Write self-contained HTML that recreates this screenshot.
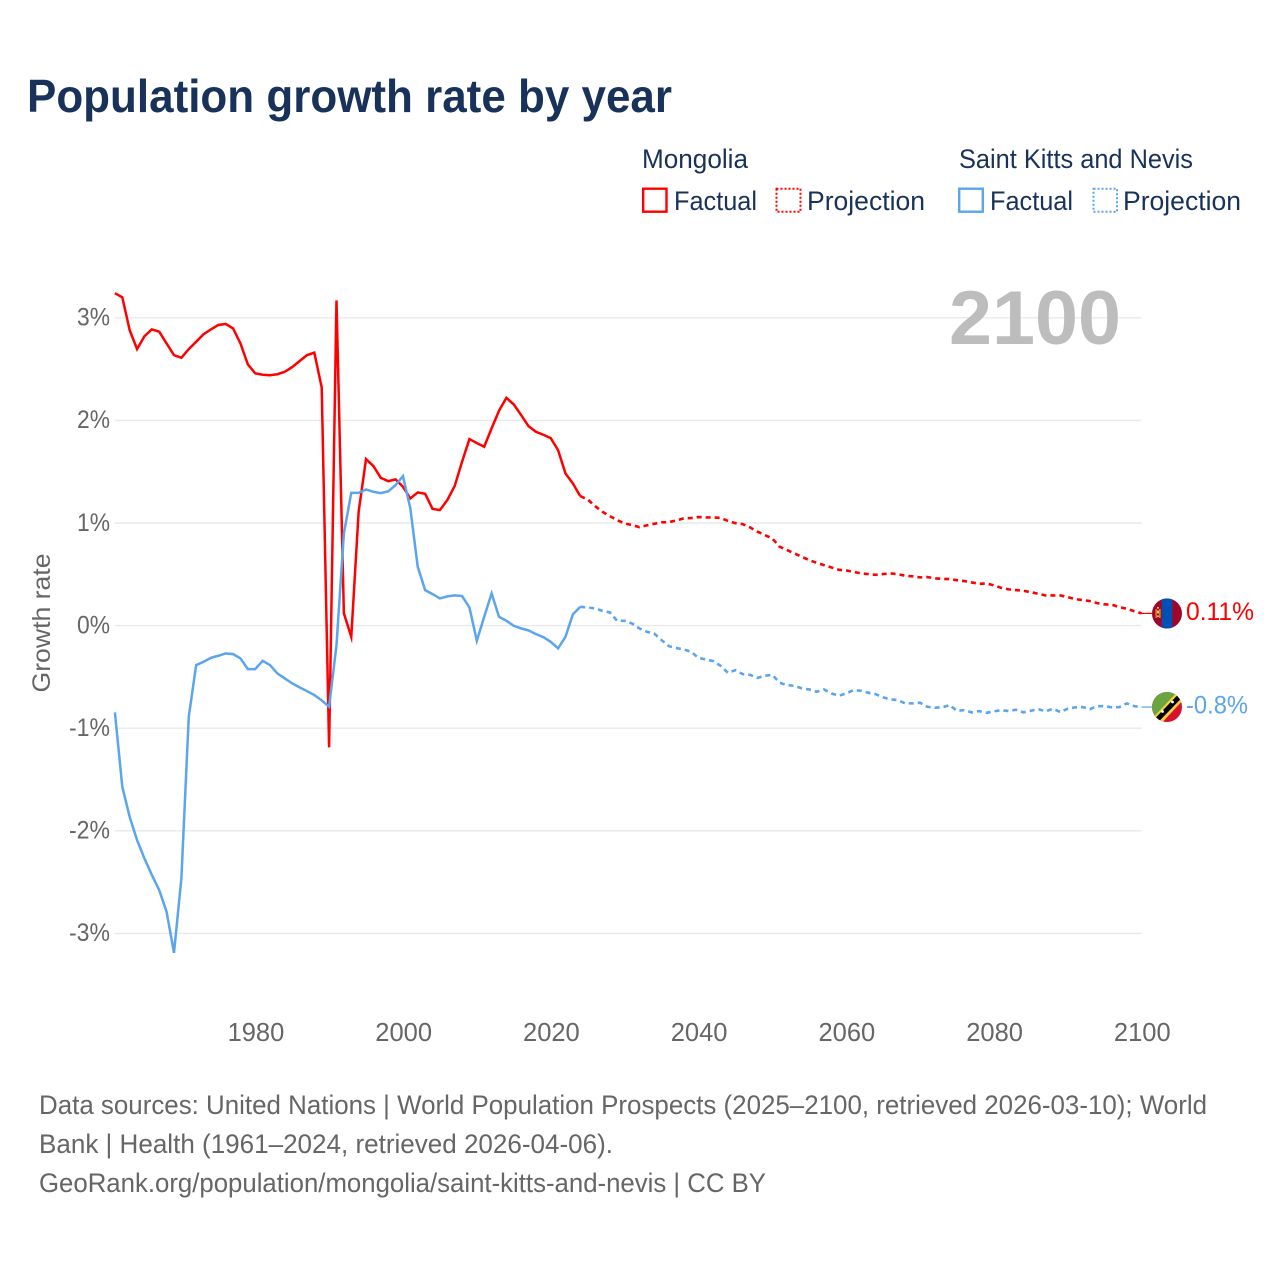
<!DOCTYPE html>
<html lang="en">
<head>
<meta charset="utf-8">
<title>Population growth rate by year</title>
<style>
html,body{margin:0;padding:0;background:#fff;}
svg{display:block;font-family:"Liberation Sans",sans-serif;}
</style>
</head>
<body>
<svg id="chart" xmlns="http://www.w3.org/2000/svg" width="1280" height="1280" viewBox="0 0 1280 1280">
  <rect width="1280" height="1280" fill="#ffffff"/>
  <text x="27" y="112" font-size="46" font-weight="700" fill="#18325a" textLength="645" lengthAdjust="spacingAndGlyphs">Population growth rate by year</text>

  <g font-size="27" fill="#18325a">
    <text x="642" y="168" textLength="106" lengthAdjust="spacingAndGlyphs">Mongolia</text>
    <text x="959" y="168" textLength="234" lengthAdjust="spacingAndGlyphs">Saint Kitts and Nevis</text>
    <rect x="643.2" y="188.7" width="23.3" height="23" fill="none" stroke="#ff0000" stroke-width="2.4"/>
    <text x="674" y="210" textLength="83" lengthAdjust="spacingAndGlyphs">Factual</text>
    <rect x="776.5" y="188.7" width="24" height="23" fill="none" stroke="#ff0000" stroke-width="2" stroke-dasharray="2 2"/>
    <text x="807" y="210" textLength="118" lengthAdjust="spacingAndGlyphs">Projection</text>
    <rect x="959.2" y="188.7" width="23.6" height="23" fill="none" stroke="#5ba4ee" stroke-width="2.4"/>
    <text x="990" y="210" textLength="83" lengthAdjust="spacingAndGlyphs">Factual</text>
    <rect x="1093.5" y="188.7" width="23.5" height="23" fill="none" stroke="#5ba4ee" stroke-width="2" stroke-dasharray="2 2"/>
    <text x="1123" y="210" textLength="118" lengthAdjust="spacingAndGlyphs">Projection</text>
  </g>

  <g id="grid"></g>
  <text x="949" y="344" font-size="76" font-weight="700" fill="#bdbdbd" textLength="172" lengthAdjust="spacingAndGlyphs">2100</text>
  <g id="yticks" font-size="25" fill="#666666"></g>
  <g id="xticks" font-size="25.5" fill="#666666"></g>
  <text transform="translate(50,623) rotate(-90)" text-anchor="middle" font-size="25" fill="#666666" textLength="139" lengthAdjust="spacingAndGlyphs">Growth rate</text>
  <g id="series"></g>

  <defs>
    <clipPath id="flag-clip-a"><circle cx="1167" cy="613.5" r="15"/></clipPath>
    <clipPath id="flag-clip-b"><circle cx="1167" cy="707" r="15"/></clipPath>
  </defs>
  <g id="flag-mongolia" clip-path="url(#flag-clip-a)">
    <rect x="1152" y="598" width="30" height="31" fill="#a0062a"/>
    <rect x="1161.7" y="598" width="10.6" height="31" fill="#0050b4"/>
    <rect x="1155.6" y="609" width="1" height="9" fill="#f5c83c"/>
    <rect x="1159.4" y="609" width="1" height="9" fill="#f5c83c"/>
    <rect x="1157" y="607" width="2" height="1.6" fill="#f5c83c"/>
    <rect x="1157" y="610.5" width="2" height="3" fill="#f5c83c"/>
    <rect x="1157" y="615.5" width="2" height="1.6" fill="#f5c83c"/>
  </g>
  <g id="flag-kitts" clip-path="url(#flag-clip-b)">
    <rect x="1152" y="692" width="30" height="30" fill="#d9102f"/>
    <polygon points="1150,690 1184,690 1150,724" fill="#6aa542"/>
    <polygon points="1149,722 1179,690 1186,697 1156,729" fill="#f7d23c"/>
    <polygon points="1151,722.5 1180.5,692 1184,695.5 1154.5,726" fill="#000000"/>
    <circle cx="1162.5" cy="711.5" r="1.4" fill="#ffffff"/>
    <circle cx="1172.5" cy="702" r="1.4" fill="#ffffff"/>
  </g>
  <text id="label-mongolia" x="1186" y="620" font-size="25" fill="#ff0000" textLength="68" lengthAdjust="spacingAndGlyphs">0.11%</text>
  <text id="label-kitts" x="1186" y="713.5" font-size="25" fill="#5ba4ee" textLength="62" lengthAdjust="spacingAndGlyphs">-0.8%</text>

  <g font-size="26.5" fill="#666666">
    <text x="39" y="1114" textLength="1168" lengthAdjust="spacingAndGlyphs">Data sources: United Nations | World Population Prospects (2025–2100, retrieved 2026-03-10); World</text>
    <text x="39" y="1153" textLength="574" lengthAdjust="spacingAndGlyphs">Bank | Health (1961–2024, retrieved 2026-04-06).</text>
    <text x="39" y="1192" textLength="727" lengthAdjust="spacingAndGlyphs">GeoRank.org/population/mongolia/saint-kitts-and-nevis | CC BY</text>
  </g>
</svg>
<script>
const startYear = 1961;
const yTickValues = [3, 2, 1, 0, -1, -2, -3];
const xTickYears = [1980, 2000, 2020, 2040, 2060, 2080, 2100];

// Growth rate (%), one value per year from 1961 to 2024
const mongoliaFactual = [
  3.24, 3.20, 2.88, 2.695, 2.82, 2.887, 2.865, 2.75, 2.636, 2.61,
  2.695, 2.766, 2.84, 2.887, 2.93, 2.94, 2.897, 2.75, 2.546, 2.458,
  2.445, 2.44, 2.45, 2.474, 2.52, 2.578, 2.636, 2.66, 2.32, -1.187,
  3.17, 0.12, -0.11, 1.11, 1.623, 1.555, 1.44, 1.408, 1.425, 1.353,
  1.24, 1.298, 1.285, 1.138, 1.126, 1.223, 1.36, 1.597, 1.818, 1.779,
  1.743, 1.922, 2.094, 2.22, 2.156, 2.052, 1.944, 1.889, 1.86, 1.827,
  1.71, 1.483, 1.386, 1.262
];
// Growth rate (%), one value per year from 2025 to 2100
const mongoliaProjection = [
  1.23, 1.165, 1.11, 1.067, 1.028, 0.996, 0.98, 0.96, 0.977, 0.992,
  1.006, 1.009, 1.025, 1.045, 1.048, 1.058, 1.054, 1.054, 1.05, 1.02,
  0.999, 0.989, 0.957, 0.915, 0.882, 0.85, 0.768, 0.736, 0.704, 0.67,
  0.638, 0.612, 0.59, 0.567, 0.544, 0.538, 0.524, 0.509, 0.502, 0.495,
  0.502, 0.509, 0.502, 0.485, 0.48, 0.47, 0.473, 0.46, 0.456, 0.453,
  0.443, 0.434, 0.421, 0.407, 0.411, 0.392, 0.368, 0.353, 0.346, 0.339,
  0.326, 0.31, 0.294, 0.294, 0.294, 0.278, 0.258, 0.249, 0.239, 0.219,
  0.207, 0.203, 0.18, 0.164, 0.141, 0.119
];
const kittsFactual = [
  -0.846, -1.571, -1.864, -2.09, -2.27, -2.43, -2.578, -2.79, -3.19, -2.464,
  -0.889, -0.385, -0.353, -0.314, -0.294, -0.271, -0.278, -0.32, -0.424, -0.424,
  -0.343, -0.385, -0.466, -0.515, -0.563, -0.602, -0.638, -0.677, -0.729, -0.791,
  -0.19, 0.898, 1.294, 1.294, 1.327, 1.304, 1.291, 1.308, 1.369, 1.457,
  1.142, 0.573, 0.346, 0.307, 0.265, 0.285, 0.294, 0.288, 0.177, -0.148,
  0.086, 0.314, 0.086, 0.047, -0.002, -0.027, -0.047, -0.083, -0.112, -0.158,
  -0.222, -0.109, 0.109, 0.183
];
const kittsProjection = [
  0.177, 0.168, 0.144, 0.129, 0.047, 0.047, 0.021, -0.027, -0.06, -0.076,
  -0.141, -0.2, -0.219, -0.232, -0.255, -0.314, -0.33, -0.346, -0.392, -0.46,
  -0.434, -0.473, -0.48, -0.509, -0.489, -0.48, -0.557, -0.58, -0.587, -0.612,
  -0.622, -0.645, -0.622, -0.661, -0.684, -0.661, -0.629, -0.635, -0.655, -0.668,
  -0.70, -0.719, -0.726, -0.758, -0.758, -0.752, -0.791, -0.80, -0.797, -0.775,
  -0.83, -0.824, -0.846, -0.833, -0.85, -0.836, -0.824, -0.833, -0.82, -0.846,
  -0.83, -0.814, -0.836, -0.81, -0.843, -0.81, -0.797, -0.794, -0.814, -0.785,
  -0.785, -0.797, -0.794, -0.758, -0.785, -0.794
];

const SVG_NS = 'http://www.w3.org/2000/svg';
const xAxis = year => 114.9 + (year - startYear) * (1141.6 - 114.9) / (2100 - startYear);
const yAxis = value => 625.6 - value * 102.6;

const gridGroup = document.getElementById('grid');
const yTickGroup = document.getElementById('yticks');
const xTickGroup = document.getElementById('xticks');
const seriesGroup = document.getElementById('series');

yTickValues.forEach(v => {
  const line = document.createElementNS(SVG_NS, 'line');
  
  
  line.setAttribute('x1', 115);
  line.setAttribute('x2', 1141.5);
  line.setAttribute('y1', yAxis(v));
  line.setAttribute('y2', yAxis(v));
  line.setAttribute('stroke', '#e9e9e9');
  line.setAttribute('stroke-width', '1.4');
  gridGroup.appendChild(line);

  const label = document.createElementNS(SVG_NS, 'text');
  
  
  label.setAttribute('x', 110);
  label.setAttribute('y', yAxis(v) + 7.8);
  label.setAttribute('text-anchor', 'end');
  label.setAttribute('textLength', v < 0 ? 41 : 33);
  label.setAttribute('lengthAdjust', 'spacingAndGlyphs');
  label.textContent = v + '%';
  yTickGroup.appendChild(label);
});

xTickYears.forEach(y => {
  const label = document.createElementNS(SVG_NS, 'text');
  
  
  label.setAttribute('x', xAxis(y) + 0.7);
  label.setAttribute('y', 1041);
  label.setAttribute('text-anchor', 'middle');
  label.textContent = y;
  xTickGroup.appendChild(label);
});

function pathFrom(values, firstYear) {
  return values.map((v, i) => (i ? 'L' : 'M') + xAxis(firstYear + i).toFixed(2) + ' ' + yAxis(v).toFixed(2)).join(' ');
}

function addLine(name, d, color, dash, width) {
  const path = document.createElementNS(SVG_NS, 'path');
  
  
  path.setAttribute('d', d);
  path.setAttribute('fill', 'none');
  path.setAttribute('stroke', color);
  path.setAttribute('stroke-width', width);
  path.setAttribute('stroke-linejoin', 'miter');
  path.setAttribute('stroke-miterlimit', '6');
  if (dash) path.setAttribute('stroke-dasharray', dash);
  seriesGroup.appendChild(path);
}

const lastYear = startYear + mongoliaFactual.length - 1;
const MONGOLIA = '#ff0000';
const KITTS = '#5ba4ee';

addLine('line-kitts-projection', pathFrom([kittsFactual[kittsFactual.length - 1]].concat(kittsProjection), lastYear), KITTS, '5 4', 2.6);
addLine('line-mongolia-projection', pathFrom([mongoliaFactual[mongoliaFactual.length - 1]].concat(mongoliaProjection), lastYear), MONGOLIA, '5 4', 2.6);
addLine('line-mongolia-factual', pathFrom(mongoliaFactual, startYear), MONGOLIA, null, 2.5);
addLine('line-kitts-factual', pathFrom(kittsFactual, startYear), KITTS, null, 2.5);

const kittsEndY = yAxis(kittsProjection[kittsProjection.length - 1]);
const mongoliaEndY = yAxis(mongoliaProjection[mongoliaProjection.length - 1]);
addLine('connector-mongolia', 'M' + xAxis(2100) + ' ' + mongoliaEndY + ' L1153 ' + mongoliaEndY, MONGOLIA, null, 1.2);
addLine('connector-kitts', 'M' + xAxis(2100) + ' ' + kittsEndY + ' L1153 ' + kittsEndY, KITTS, null, 1.2);
</script>
</body>
</html>
